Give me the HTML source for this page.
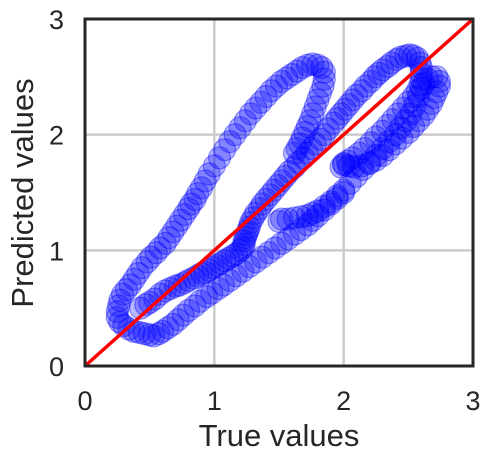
<!DOCTYPE html>
<html><head><meta charset="utf-8"><style>
body{margin:0;background:#fff;}
svg{display:block;font-family:"Liberation Sans",sans-serif;}
</style></head><body>
<svg width="491" height="463" viewBox="0 0 491 463">
<g id="grid"></g>
<g id="pts"></g>
<line id="ref" stroke="#ff0000" stroke-width="3.5"/>
<rect x="85" y="19" width="388" height="347" fill="none" stroke="#262626" stroke-width="3"/>
<g id="ticks" font-size="27" fill="#262626"></g>
<text x="279" y="446" font-size="31" fill="#262626" text-anchor="middle">True values</text>
<text transform="translate(33,193) rotate(-90)" font-size="31" fill="#262626" text-anchor="middle">Predicted values</text>
</svg>
<script>
const xTicks=[0,1,2,3];
const yTicks=[0,1,2,3];
const xVals=[0.43,0.47,0.50,0.54,0.58,0.62,0.66,0.70,0.73,0.77,0.80,0.84,0.87,0.90,0.93,0.96,0.99,1.02,1.05,1.08,1.11,1.14,1.17,1.20,1.22,1.23,1.23,1.24,1.25,1.26,1.27,1.28,1.30,1.32,1.35,1.37,1.40,1.43,1.46,1.49,1.52,1.55,1.58,1.62,1.65,1.69,1.72,1.75,1.78,1.82,1.85,1.88,1.92,1.95,1.98,2.01,2.04,2.07,2.10,2.14,2.17,2.21,2.24,2.27,2.30,2.34,2.37,2.41,2.44,2.48,2.51,2.54,2.57,2.59,2.60,2.60,2.60,2.59,2.57,2.54,2.50,2.46,2.42,2.38,2.34,2.30,2.25,2.21,2.16,2.12,2.07,2.03,2.00,1.98,2.00,2.04,2.08,2.14,2.20,2.25,2.30,2.35,2.40,2.45,2.50,2.54,2.58,2.62,2.65,2.68,2.70,2.72,2.74,2.74,2.72,2.68,2.65,2.62,2.60,2.58,2.55,2.52,2.48,2.44,2.40,2.35,2.30,2.25,2.20,2.15,2.10,2.05,2.00,1.95,1.90,1.85,1.80,1.76,1.72,1.67,1.62,1.57,1.52,1.50,
1.62,1.64,1.66,1.68,1.70,1.72,1.74,1.76,1.78,1.80,1.82,1.84,1.85,1.85,1.83,1.80,1.76,1.72,1.68,1.64,1.60,1.56,1.52,1.48,1.44,1.40,1.36,1.32,1.28,1.24,1.20,1.16,1.12,1.08,1.04,1.00,0.96,0.93,0.90,0.87,0.85,0.82,0.80,0.77,0.74,0.71,0.68,0.65,0.62,0.58,0.55,0.51,0.48,0.44,0.41,0.38,0.35,0.32,0.29,0.27,0.26,0.25,0.25,0.27,0.30,0.34,0.38,0.42,0.46,0.50,0.53,0.57,0.60,0.64,0.68,0.72,0.76,0.80,0.85,0.89,0.94,0.98,1.03,1.07,1.12,1.17,1.22,1.27,1.32,1.37,1.42,1.47,1.52,1.57,1.62,1.67,1.72,1.76,1.80,1.85,1.90,1.95,2.00];
const yVals=[0.50,0.53,0.55,0.58,0.62,0.65,0.67,0.69,0.70,0.72,0.74,0.76,0.78,0.80,0.81,0.83,0.85,0.87,0.89,0.91,0.93,0.95,0.97,1.00,1.02,1.05,1.08,1.11,1.14,1.17,1.20,1.24,1.28,1.32,1.36,1.40,1.44,1.48,1.52,1.56,1.60,1.64,1.68,1.72,1.76,1.80,1.84,1.88,1.92,1.96,2.00,2.05,2.10,2.14,2.18,2.22,2.26,2.30,2.34,2.38,2.42,2.46,2.50,2.53,2.56,2.59,2.62,2.65,2.67,2.68,2.69,2.68,2.66,2.62,2.58,2.53,2.48,2.43,2.38,2.33,2.28,2.23,2.18,2.13,2.08,2.03,1.98,1.93,1.88,1.84,1.80,1.77,1.74,1.72,1.75,1.73,1.72,1.73,1.75,1.78,1.82,1.87,1.92,1.97,2.02,2.07,2.12,2.17,2.22,2.27,2.32,2.37,2.42,2.46,2.50,2.50,2.48,2.44,2.40,2.33,2.25,2.18,2.12,2.06,2.00,1.94,1.88,1.82,1.76,1.70,1.64,1.58,1.52,1.47,1.42,1.38,1.34,1.32,1.30,1.29,1.28,1.27,1.27,1.25,
1.84,1.88,1.92,1.97,2.02,2.07,2.12,2.18,2.24,2.30,2.36,2.42,2.48,2.54,2.58,2.60,2.61,2.60,2.58,2.55,2.52,2.49,2.46,2.42,2.38,2.33,2.28,2.23,2.18,2.12,2.06,2.00,1.94,1.87,1.80,1.73,1.66,1.60,1.54,1.49,1.44,1.40,1.36,1.31,1.26,1.21,1.16,1.11,1.06,1.02,0.98,0.94,0.90,0.85,0.80,0.75,0.70,0.66,0.62,0.57,0.52,0.47,0.42,0.38,0.35,0.32,0.30,0.29,0.28,0.27,0.26,0.28,0.30,0.33,0.36,0.40,0.44,0.48,0.52,0.56,0.60,0.63,0.67,0.70,0.74,0.78,0.82,0.86,0.90,0.94,0.98,1.02,1.06,1.10,1.14,1.18,1.22,1.26,1.30,1.35,1.40,1.45,1.50];
const NS='http://www.w3.org/2000/svg';
const X0=85,X1=473,Y0=366,Y1=19;
const sx=v=>X0+(v/3)*(X1-X0);
const sy=v=>Y0-(v/3)*(Y0-Y1);
const grid=document.getElementById('grid'),ticks=document.getElementById('ticks'),pts=document.getElementById('pts');
xTicks.forEach(t=>{
 const l=document.createElementNS(NS,'line');
 
 
 l.setAttribute('x1',sx(t));l.setAttribute('x2',sx(t));l.setAttribute('y1',Y1);l.setAttribute('y2',Y0);
 l.setAttribute('stroke','#cccccc');l.setAttribute('stroke-width','2.5');grid.appendChild(l);
 const tx=document.createElementNS(NS,'text');
 
 
 tx.setAttribute('x',sx(t));tx.setAttribute('y',410);tx.setAttribute('text-anchor','middle');tx.textContent=t;ticks.appendChild(tx);
});
yTicks.forEach(t=>{
 const l=document.createElementNS(NS,'line');
 
 
 l.setAttribute('y1',sy(t));l.setAttribute('y2',sy(t));l.setAttribute('x1',X0);l.setAttribute('x2',X1);
 l.setAttribute('stroke','#cccccc');l.setAttribute('stroke-width','2.5');grid.appendChild(l);
 const tx=document.createElementNS(NS,'text');
 
 
 tx.setAttribute('x',64);tx.setAttribute('y',sy(t)+10);tx.setAttribute('text-anchor','end');tx.textContent=t;ticks.appendChild(tx);
});
xVals.forEach((v,i)=>{
 const c=document.createElementNS(NS,'circle');
 
 
 c.setAttribute('cx',sx(v));c.setAttribute('cy',sy(yVals[i]));c.setAttribute('r',11);
 c.setAttribute('fill','rgba(0,0,255,0.28)');c.setAttribute('stroke','rgba(0,0,255,0.4)');c.setAttribute('stroke-width','1.2');
 pts.appendChild(c);
});
const r=document.getElementById('ref');
r.setAttribute('x1',sx(0));r.setAttribute('y1',sy(0));r.setAttribute('x2',sx(3));r.setAttribute('y2',sy(3));
</script>
</body></html>
